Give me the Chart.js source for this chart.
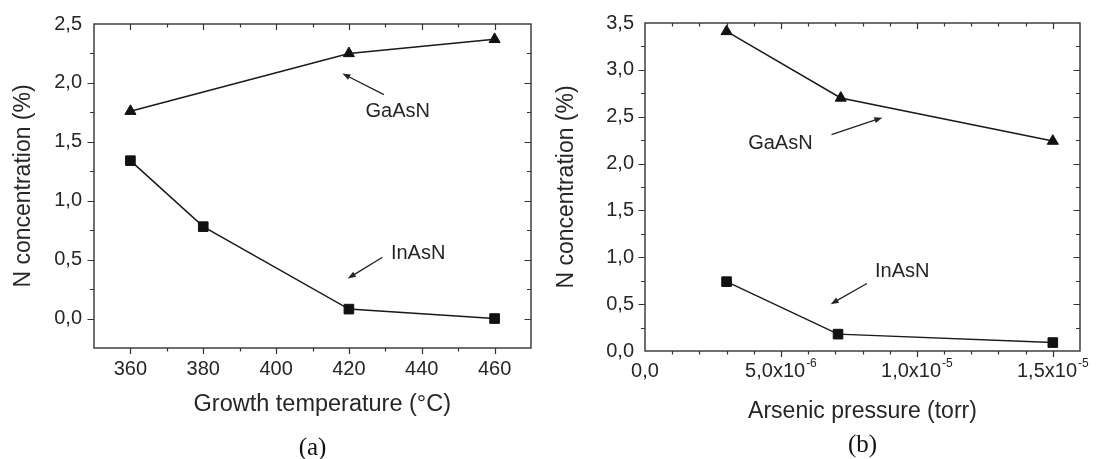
<!DOCTYPE html>
<html>
<head>
<meta charset="utf-8">
<script src="https://cdn.jsdelivr.net/npm/chart.js@4"></script>
<style>
  html, body { margin: 0; padding: 0; background: #fff; }
  #wrap { position: relative; width: 1097px; height: 459px; overflow: hidden; }
  canvas { position: absolute; top: 0; }
  #chartA { left: 0; }
  #chartB { left: 548px; }
</style>
</head>
<body>
<div id="wrap">
  <canvas id="chartA" width="548" height="459"></canvas>
  <canvas id="chartB" width="549" height="459"></canvas>
</div>
<script>
// (a) N concentration vs growth temperature
var tempTicks = [360, 380, 400, 420, 440, 460];
var inasnTempX = [360, 380, 420, 460];
var inasnTempY = [1.34, 0.78, 0.08, 0.0];
var gaasnTempX = [360, 420, 460];
var gaasnTempY = [1.76, 2.25, 2.37];
var concTicksA = [0, 0.5, 1, 1.5, 2, 2.5];

// (b) N concentration vs arsenic pressure
var pressTicks = [0, 5e-6, 1e-5, 1.5e-5];
var pressTickBase = ['0,0', '5,0x10', '1,0x10', '1,5x10'];
var pressTickExp = ['', '-6', '-5', '-5'];
var gaasnPressX = [3e-6, 7.2e-6, 1.5e-5];
var gaasnPressY = [3.41, 2.70, 2.24];
var inasnPressX = [3e-6, 7.1e-6, 1.5e-5];
var inasnPressY = [0.74, 0.18, 0.09];
var concTicksB = [0, 0.5, 1, 1.5, 2, 2.5, 3, 3.5];

var ink = '#262626';
var sans = "'Liberation Sans', Arial, sans-serif";
Chart.defaults.font.family = sans;
Chart.defaults.color = ink;

function points(xs, ys) {
    return xs.map(function (x, i) { return { x: x, y: ys[i] }; });
}

function comma(v) {
    return v.toFixed(1).replace('.', ',');
}

// frame, inward/outward ticks, arrows and labels, drawn from the chart scales
var decor = {
    id: 'decor',
    afterDraw: function (chart, args, o) {
        var ctx = chart.ctx, a = chart.chartArea;
        var xs = chart.scales.x, ys = chart.scales.y;
        ctx.save();
        ctx.strokeStyle = '#333';
        ctx.lineWidth = 1.4;
        ctx.strokeRect(a.left, a.top, a.right - a.left, a.bottom - a.top);

        ctx.lineWidth = 1.2;
        ctx.beginPath();
        var i, v, p, len;
        for (i = 0; ; i++) {
            v = xs.min + i * o.xMinor;
            if (v > xs.max + o.xMinor * 1e-3) break;
            if (i === 0 || Math.abs(v - xs.max) < o.xMinor * 1e-3) continue;
            len = Math.abs(v / o.xMajor - Math.round(v / o.xMajor)) < 1e-3 ? 6 : 3.5;
            p = Math.round(xs.getPixelForValue(v)) + 0.5;
            ctx.moveTo(p, a.bottom); ctx.lineTo(p, a.bottom + len);
            ctx.moveTo(p, a.top); ctx.lineTo(p, a.top + len);
        }
        for (i = 0; ; i++) {
            v = ys.min + i * o.yMinor;
            if (v > ys.max + o.yMinor * 1e-3) break;
            if (i === 0 || Math.abs(v - ys.max) < o.yMinor * 1e-3) continue;
            len = Math.abs(v / o.yMajor - Math.round(v / o.yMajor)) < 1e-3 ? 6.5 : 4;
            p = Math.round(ys.getPixelForValue(v)) + 0.5;
            ctx.moveTo(a.left, p); ctx.lineTo(a.left - len, p);
            ctx.moveTo(a.right, p); ctx.lineTo(a.right - len, p);
        }
        ctx.stroke();

        ctx.fillStyle = ink;
        ctx.textAlign = 'left';
        ctx.textBaseline = 'middle';
        // tick labels with raised exponents
        if (o.expLabels) {
            o.expLabels.values.forEach(function (val, k) {
                var base = o.expLabels.base[k], exp = o.expLabels.exp[k];
                ctx.font = '20px ' + sans;
                var wb = ctx.measureText(base).width;
                ctx.font = '12px ' + sans;
                var we = exp ? ctx.measureText(exp).width + 1 : 0;
                var x0 = xs.getPixelForValue(val) - (wb + we) / 2;
                ctx.font = '20px ' + sans;
                ctx.fillText(base, x0, a.bottom + 20);
                if (exp) {
                    ctx.font = '12px ' + sans;
                    ctx.fillText(exp, x0 + wb + 1, a.bottom + 13);
                }
            });
        }

        ctx.strokeStyle = '#222';
        ctx.lineWidth = 1.3;
        o.notes.forEach(function (n) {
            var tx = xs.getPixelForValue(n.from[0]), ty = ys.getPixelForValue(n.from[1]);
            var hx = xs.getPixelForValue(n.to[0]), hy = ys.getPixelForValue(n.to[1]);
            var ang = Math.atan2(hy - ty, hx - tx);
            ctx.beginPath();
            ctx.moveTo(tx, ty);
            ctx.lineTo(hx - 5 * Math.cos(ang), hy - 5 * Math.sin(ang));
            ctx.stroke();
            ctx.beginPath();
            ctx.moveTo(hx, hy);
            ctx.lineTo(hx - 8 * Math.cos(ang) + 3 * Math.sin(ang), hy - 8 * Math.sin(ang) - 3 * Math.cos(ang));
            ctx.lineTo(hx - 8 * Math.cos(ang) - 3 * Math.sin(ang), hy - 8 * Math.sin(ang) + 3 * Math.cos(ang));
            ctx.closePath();
            ctx.fill();

            ctx.font = '20px ' + sans;
            ctx.textAlign = 'center';
            ctx.fillText(n.text, xs.getPixelForValue(n.at[0]), ys.getPixelForValue(n.at[1]));
        });

        ctx.fillStyle = '#111';
        ctx.font = "25px 'Liberation Serif', 'Times New Roman', serif";
        ctx.textAlign = 'center';
        ctx.fillText(o.panel, (a.left + a.right) / 2, o.panelY);
        ctx.restore();
    }
};

function series(label, data, style, r) {
    return {
        label: label,
        data: data,
        showLine: true,
        borderColor: '#1a1a1a',
        borderWidth: 1.5,
        backgroundColor: '#111',
        pointStyle: style,
        pointRadius: r,
        pointBorderWidth: 1,
        pointBorderColor: '#111',
        pointBackgroundColor: '#111'
    };
}

function axisOpts(extra) {
    var base = {
        type: 'linear',
        grid: { display: false, drawTicks: false },
        border: { display: false },
        ticks: { color: ink, font: { size: 20 }, autoSkip: false, maxRotation: 0 },
        title: { display: true, color: ink, font: { size: 23 } }
    };
    Object.keys(extra).forEach(function (k) {
        if (typeof extra[k] === 'object' && base[k]) {
            Object.assign(base[k], extra[k]);
        } else {
            base[k] = extra[k];
        }
    });
    return base;
}

new Chart(document.getElementById('chartA'), {
    type: 'scatter',
    data: {
        datasets: [
            series('GaAsN', points(gaasnTempX, gaasnTempY), 'triangle', 6.4),
            series('InAsN', points(inasnTempX, inasnTempY), 'rect', 6.8)
        ]
    },
    options: {
        responsive: false,
        animation: false,
        layout: { padding: { top: 21, right: 17, left: 0, bottom: 0 } },
        plugins: {
            legend: { display: false },
            tooltip: { enabled: false },
            decor: {
                xMajor: 20, xMinor: 10, yMajor: 0.5, yMinor: 0.25,
                panel: '(a)', panelY: 448,
                notes: [
                    { text: 'GaAsN', at: [433.4, 1.76], from: [429.6, 1.90], to: [418.2, 2.08] },
                    { text: 'InAsN', at: [439, 0.556], from: [429.2, 0.52], to: [419.7, 0.34] }
                ]
            }
        },
        scales: {
            x: axisOpts({
                min: 350, max: 470,
                afterBuildTicks: function (s) { s.ticks = tempTicks.map(function (v) { return { value: v }; }); },
                afterFit: function (s) { s.height = 111; },
                ticks: { padding: 9, callback: function (v) { return String(v); } },
                title: { text: '   Growth temperature (\u00B0C)', font: { size: 23.5 }, padding: { top: 0, bottom: 40 } }
            }),
            y: axisOpts({
                min: -0.25, max: 2.5,
                afterBuildTicks: function (s) { s.ticks = concTicksA.map(function (v) { return { value: v }; }); },
                afterFit: function (s) { s.width = 94; },
                ticks: { padding: 12, callback: comma },
                title: { text: 'N concentration (%)', padding: { top: 9.5, bottom: 0 } }
            })
        }
    },
    plugins: [decor]
});

new Chart(document.getElementById('chartB'), {
    type: 'scatter',
    data: {
        datasets: [
            series('GaAsN', points(gaasnPressX, gaasnPressY), 'triangle', 6.4),
            series('InAsN', points(inasnPressX, inasnPressY), 'rect', 6.8)
        ]
    },
    options: {
        responsive: false,
        animation: false,
        layout: { padding: { top: 21, right: 17, left: 0, bottom: 0 } },
        plugins: {
            legend: { display: false },
            tooltip: { enabled: false },
            decor: {
                xMajor: 5e-6, xMinor: 1e-6, yMajor: 0.5, yMinor: 0.25,
                panel: '(b)', panelY: 445,
                expLabels: { values: pressTicks, base: pressTickBase, exp: pressTickExp },
                notes: [
                    { text: 'GaAsN', at: [4.98e-6, 2.21], from: [6.86e-6, 2.31], to: [8.73e-6, 2.49] },
                    { text: 'InAsN', at: [9.46e-6, 0.85], from: [8.16e-6, 0.72], to: [6.83e-6, 0.50] }
                ]
            }
        },
        scales: {
            x: axisOpts({
                min: 0, max: 1.6e-5,
                afterBuildTicks: function (s) { s.ticks = pressTicks.map(function (v) { return { value: v }; }); },
                afterFit: function (s) { s.height = 108; },
                ticks: { padding: 7, callback: function () { return ''; } },
                title: { text: 'Arsenic pressure (torr)', padding: { top: 0, bottom: 33.5 } }
            }),
            y: axisOpts({
                min: 0, max: 3.5,
                afterBuildTicks: function (s) { s.ticks = concTicksB.map(function (v) { return { value: v }; }); },
                afterFit: function (s) { s.width = 97; },
                ticks: { padding: 11, callback: comma },
                title: { text: 'N concentration (%)', padding: { top: 5, bottom: 0 } }
            })
        }
    },
    plugins: [decor]
});
</script>
</body>
</html>
